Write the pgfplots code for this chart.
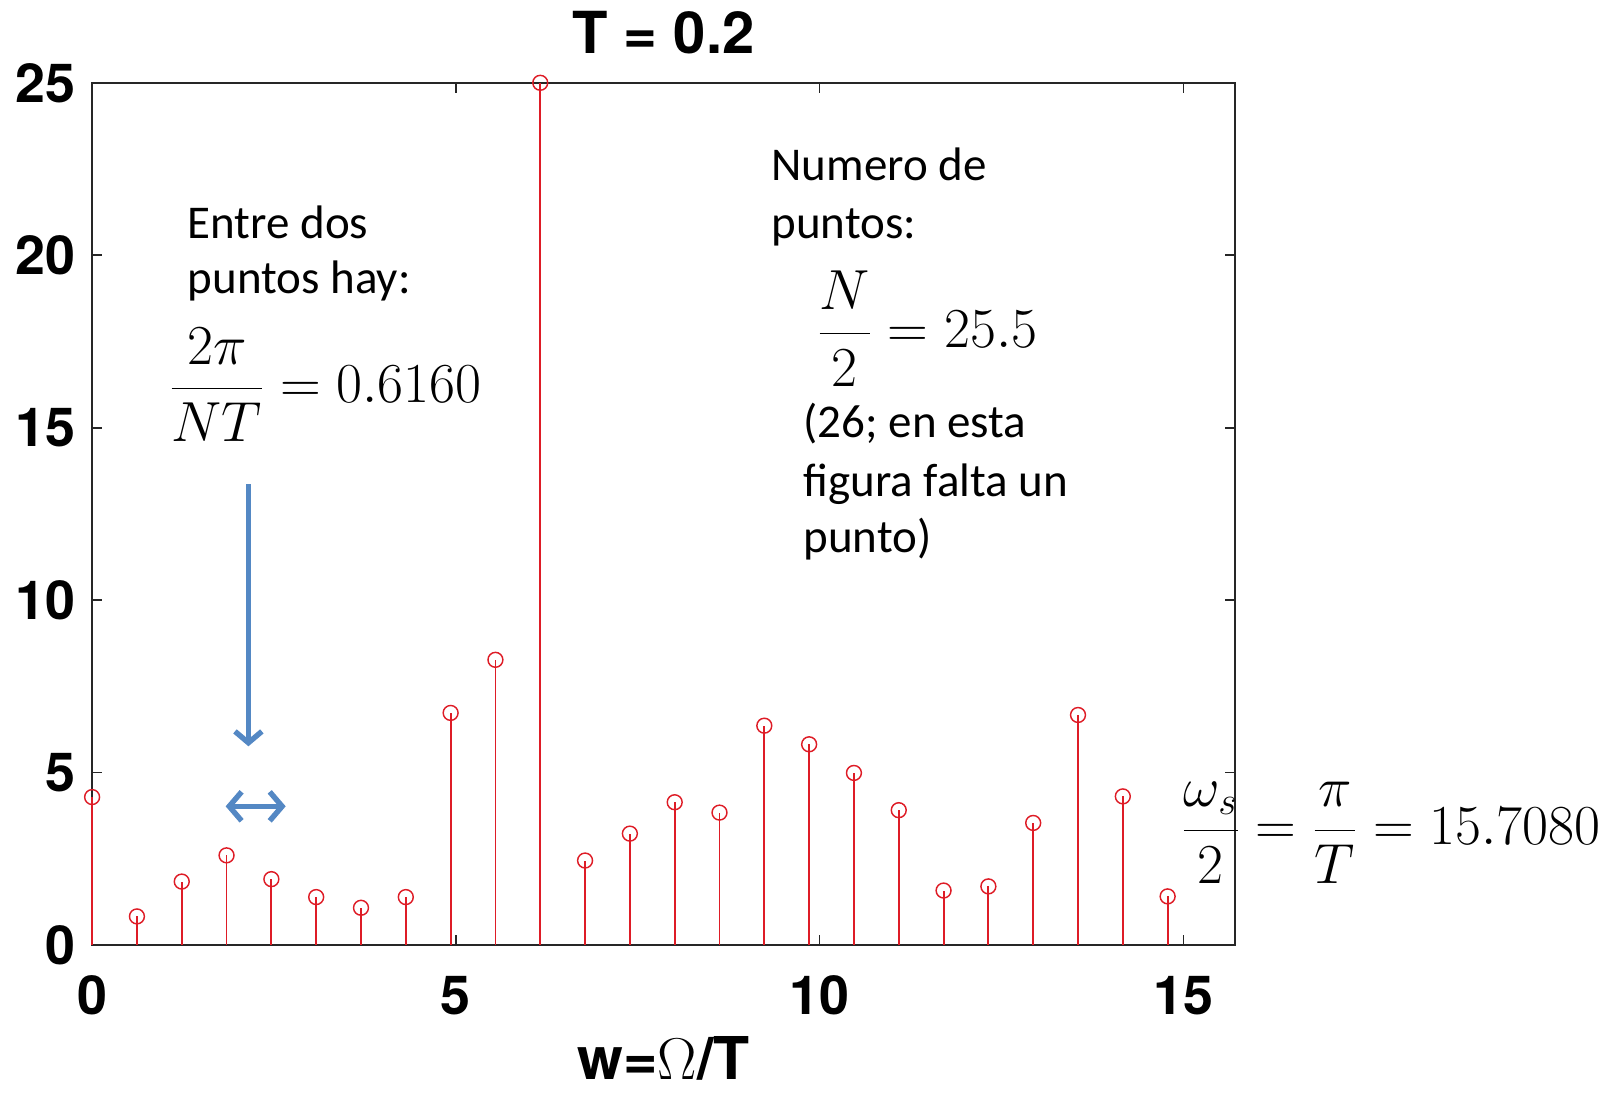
\RequirePackage{fix-cm}
\documentclass[border=0pt]{standalone}
\usepackage{pgfplots}
\pgfplotsset{compat=1.18}
\usepackage{pgfplotstable}
\usepackage{fontspec}
\setmainfont{Carlito}
\newfontfamily\heros{TeX Gyre Heros}
\usetikzlibrary{arrows.meta}
\definecolor{stemred}{RGB}{222,28,38}
\definecolor{axgray}{RGB}{38,38,38}
\definecolor{arrowblue}{RGB}{84,136,196}
\newcommand{\annfont}{\fontsize{22.7}{27}\selectfont}
\newcommand{\mfont}{\fontsize{27.3}{32}\selectfont}
\pgfplotstableread{
w y
0.000 4.29
0.616 0.83
1.232 1.84
1.848 2.60
2.464 1.91
3.080 1.39
3.696 1.08
4.312 1.39
4.928 6.73
5.544 8.27
6.160 25.00
6.776 2.45
7.392 3.23
8.008 4.14
8.624 3.84
9.240 6.36
9.856 5.82
10.472 4.99
11.088 3.91
11.704 1.58
12.320 1.70
12.936 3.54
13.552 6.67
14.168 4.31
14.784 1.41
}\stemdata
\begin{document}
\begin{tikzpicture}
\path[use as bounding box] (0,0) rectangle (784pt,528pt);
\begin{axis}[
  at={(44.5pt,71.5pt)}, anchor=south west,
  width=552pt, height=416.5pt, scale only axis,
  xmin=0, xmax=15.708, ymin=0, ymax=25,
  xtick={0,5,10,15}, ytick={0,5,10,15,20,25},
  tick align=inside, major tick length=5pt,
  axis line style={draw=axgray, line width=1pt},
  tick style={draw=axgray, line width=0.8pt},
  clip=false,
  /pgf/number format/assume math mode=true,
  ticklabel style={font=\heros\bfseries\fontsize{26}{26}\selectfont},
  xticklabel style={anchor=base, yshift=-33.5pt},
  yticklabel style={xshift=-4.5pt},
  title={T = 0.2},
  title style={at={(axis description cs:0.5,1.0342)}, anchor=base, yshift=-6pt, inner sep=0pt, font=\heros\bfseries\fontsize{28}{28}\selectfont},
  xlabel={w=$\Omega$/T},
  xlabel style={at={(axis description cs:0.5,-0.156)}, anchor=base, inner sep=0pt, text depth=0pt, font=\heros\bfseries\fontsize{28.5}{28.5}\selectfont},
]
\addplot[ycomb, color=stemred, line width=0.9pt, mark=o, mark size=3.6pt, mark options={line width=0.7pt}] table[x=w,y=y]{\stemdata};
\end{axis}
\begin{scope}[x=0.5pt,y=0.5pt]
\node[anchor=base west, inner sep=0pt, font=\annfont] at (181,826) {Entre dos};
\node[anchor=base west, inner sep=0pt, font=\annfont] at (181,772) {puntos hay:};
\node[anchor=base west, inner sep=0pt, font=\mfont] at (163,667) {$\displaystyle\frac{2\pi}{NT}=0.6160$};
\node[anchor=base west, inner sep=0pt, font=\annfont] at (745,882) {Numero de};
\node[anchor=base west, inner sep=0pt, font=\annfont] at (745,826) {puntos:};
\node[anchor=base west, inner sep=0pt, font=\mfont] at (789,720) {$\displaystyle\frac{N}{2}=25.5$};
\node[anchor=base west, inner sep=0pt, font=\annfont] at (776,633) {(26; en esta};
\node[anchor=base west, inner sep=0pt, font=\annfont] at (776,576) {figura falta un};
\node[anchor=base west, inner sep=0pt, font=\annfont] at (776,522) {punto)};
\node[anchor=base west, inner sep=0pt, font=\mfont] at (1141,240) {$\displaystyle\frac{\omega_s}{2}=\frac{\pi}{T}=15.7080$};
\draw[arrowblue, line width=2.6pt, -{Straight Barb[length=5.5pt,width=13pt]}] (240,588) -- (240,335);
\draw[arrowblue, line width=2.6pt, {Straight Barb[length=6pt,width=14pt]}-{Straight Barb[length=6pt,width=14pt]}] (218,277) -- (276,277);
\end{scope}
\end{tikzpicture}
\end{document}
